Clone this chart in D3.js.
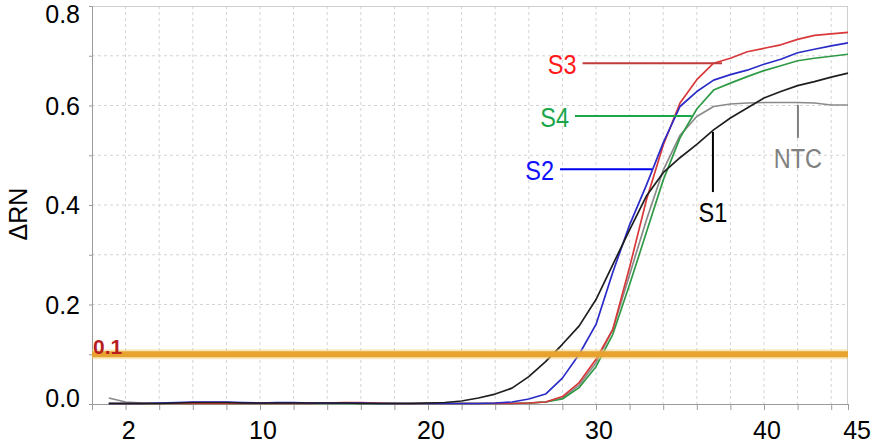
<!DOCTYPE html>
<html><head><meta charset="utf-8">
<script src="https://cdn.jsdelivr.net/npm/d3@7"></script>
<style>
html,body{margin:0;padding:0;background:#fff;}
svg{display:block;}
text{font-family:"Liberation Sans",Arial,sans-serif;}
</style></head>
<body>
<svg id="c" width="872" height="444"></svg>
<script>
// ---- data ----
const cycles = d3.range(1, 46);
const xTickLabels = [2, 10, 20, 30, 40, 45];
const yTickLabels = [0.0, 0.2, 0.4, 0.6, 0.8];
const threshold = 0.1;
const seriesNames = ["NTC", "S4", "S3", "S2", "S1"];
const ntc = [0.012,0.004,0.002,0.001,0.001,0.001,0.001,0.001,0.001,0.001, 0.001,0.001,0.001,0.001,0.001,0.001,0.001,0.001,0.001,0.001, 0.001,0.001,0.001,0.001,0.001, 0.002,0.004,0.012,0.038,0.083, 0.15,0.26,0.37,0.47,0.54, 0.578,0.598,0.603,0.605,0.606, 0.606,0.606,0.605,0.601,0.601];
const s1 = [0.001,0.001,0.001,0.001,0.002,0.003,0.003,0.003,0.002,0.002, 0.002,0.002,0.002,0.002,0.002,0.001,0.001,0.001,0.001,0.002, 0.003,0.006,0.012,0.02,0.032, 0.055,0.085,0.12,0.157,0.21, 0.28,0.35,0.418,0.465,0.495, 0.522,0.551,0.575,0.595,0.615, 0.628,0.64,0.648,0.657,0.665];
const s2 = [0.001,0.001,0.001,0.002,0.003,0.004,0.004,0.004,0.003,0.002, 0.003,0.003,0.002,0.002,0.002,0.002,0.001,0.001,0.001,0.001, 0.001,0.001,0.001,0.002,0.004, 0.01,0.02,0.052,0.1,0.16, 0.265,0.36,0.44,0.525,0.598, 0.628,0.651,0.662,0.671,0.683, 0.693,0.706,0.713,0.72,0.726];
const s3 = [0.001,0.001,0.001,0.001,0.001,0.001,0.001,0.001,0.001,0.001, 0.001,0.001,0.001,0.002,0.003,0.003,0.002,0.001,0.001,0.001, 0.001,0.001,0.001,0.001,0.001, 0.002,0.004,0.015,0.043,0.09, 0.15,0.275,0.41,0.52,0.605, 0.652,0.685,0.695,0.708,0.715, 0.722,0.733,0.741,0.744,0.747];
const s4 = [0.001,0.001,0.001,0.001,0.001,0.001,0.001,0.001,0.001,0.001, 0.001,0.001,0.001,0.001,0.001,0.001,0.001,0.001,0.001,0.001, 0.001,0.001,0.001,0.001,0.001, 0.002,0.004,0.01,0.033,0.075, 0.14,0.24,0.345,0.45,0.535, 0.593,0.631,0.645,0.658,0.67, 0.68,0.69,0.695,0.699,0.703];
const seriesValues = {NTC: ntc, S1: s1, S2: s2, S3: s3, S4: s4};

// ---- styles / layout ----
const lineColors = {NTC:"#8a8a8a", S1:"#1e1e1e", S2:"#2b2bc8", S3:"#d8383a", S4:"#2f9a45"};
const labelColors = {NTC:"#808080", S1:"#000000", S2:"#1010ff", S3:"#ff1a1a", S4:"#1aa64a"};
const leaderColors = {NTC:"#808080", S1:"#000000", S2:"#0000ee", S3:"#c23b3b", S4:"#1aa64a"};
const annotations = [
  {name:"S3", type:"h", x1:29.2, x2:37.5, y:0.685},
  {name:"S4", type:"h", x1:28.75, x2:35.7, y:0.579},
  {name:"S2", type:"h", x1:27.86, x2:33.33, y:0.472},
  {name:"S1", type:"v", x:36.96, y1:0.547, y2:0.426},
  {name:"NTC", type:"v", x:42.02, y1:0.601, y2:0.535}
];

const svg = d3.select("#c");
const L = 92, R = 848, T = 6, B = 404;
const x = d3.scaleLinear().domain([0, 45]).range([L, R]);
const y = d3.scaleLinear().domain([0, 0.8]).range([B, T]);

// grid
const g = svg.append("g");
g.selectAll("line.vg").data(d3.range(2, 45, 2)).join("line")
  .attr("x1", d=>x(d)).attr("x2", d=>x(d)).attr("y1", T).attr("y2", B)
  .attr("stroke", "#d4d4d4").attr("stroke-width", 1).attr("stroke-dasharray", "3,3");
g.selectAll("line.hg").data(d3.range(1, 8).map(d=>d/10)).join("line")
  .attr("x1", L).attr("x2", R).attr("y1", d=>y(d)).attr("y2", d=>y(d))
  .attr("stroke", "#d4d4d4").attr("stroke-width", 1).attr("stroke-dasharray", "3,3");

// frame
svg.append("line").attr("x1", L).attr("x2", R).attr("y1", T+0.5).attr("y2", T+0.5).attr("stroke", "#cfcfcf");
svg.append("line").attr("x1", R-0.5).attr("x2", R-0.5).attr("y1", T).attr("y2", B).attr("stroke", "#cfcfcf");

// axes
const xAxis = d3.axisBottom(x).tickValues(d3.range(0, 46, 2).concat([45])).tickSize(6).tickFormat("");
const xa = svg.append("g").attr("transform", `translate(0,${B})`).call(xAxis);
xa.select(".domain").attr("stroke", "#9a9a9a");
xa.selectAll(".tick line").attr("stroke", "#9a9a9a");
svg.append("g").selectAll("text").data(xTickLabels).join("text")
  .attr("x", d => d === 45 ? 871 : x(d) + 3)
  .attr("y", 439)
  .attr("text-anchor", d => d === 45 ? "end" : "middle")
  .attr("font-size", 25).attr("fill", "#000")
  .text(d => d);

const yAxis = d3.axisLeft(y).tickValues(d3.range(0, 9).map(d=>d/10)).tickSize(3).tickFormat("");
const ya = svg.append("g").attr("transform", `translate(${L},0)`).call(yAxis);
ya.select(".domain").attr("stroke", "#9a9a9a");
ya.selectAll(".tick line").attr("stroke", "#9a9a9a");
svg.append("g").selectAll("text").data(yTickLabels).join("text")
  .attr("x", 80)
  .attr("y", d => y(d) + 9 + (d === 0.8 ? 8 : 0) + (d === 0 ? -6 : 0))
  .attr("text-anchor", "end")
  .attr("font-size", 25).attr("fill", "#000")
  .text(d => d3.format(".1f")(d));

// y title
svg.append("text").attr("transform", "translate(27,214) rotate(-90)")
  .attr("text-anchor", "middle").attr("font-size", 25).text("ΔRN");

// curves
const line = d3.line().x((d,i)=>x(cycles[i])).y(d=>y(d));
const cg = svg.append("g");
seriesNames.forEach(n => {
  cg.append("path").datum(seriesValues[n]).attr("d", line)
    .attr("fill", "none").attr("stroke", lineColors[n]).attr("stroke-width", 1.7)
    .attr("stroke-linejoin", "round");
});

// threshold
svg.append("line").attr("x1", L).attr("x2", R).attr("y1", y(threshold)).attr("y2", y(threshold))
  .attr("stroke", "#f3d27a").attr("stroke-opacity", 0.5).attr("stroke-width", 10);
svg.append("line").attr("x1", L).attr("x2", R).attr("y1", y(threshold)).attr("y2", y(threshold))
  .attr("stroke", "#e8a22f").attr("stroke-width", 6);
svg.append("text").attr("x", L + 1).attr("y", y(threshold) - 0.5)
  .attr("font-family", "'Liberation Serif', 'Times New Roman', serif").attr("font-weight", "bold")
  .attr("font-size", 21).attr("fill", "#b81e1e").text(d3.format(".1f")(threshold));

// annotations
annotations.forEach(a => {
  const ag = svg.append("g");
  if (a.type === "h") {
    ag.append("line").attr("x1", x(a.x1)).attr("x2", x(a.x2)).attr("y1", y(a.y)).attr("y2", y(a.y))
      .attr("stroke", leaderColors[a.name]).attr("stroke-width", 2);
    ag.append("text").attr("transform", `translate(${x(a.x1) - 6},${y(a.y) + 11}) scale(0.84,1)`)
      .attr("text-anchor", "end").attr("font-size", 28).attr("fill", labelColors[a.name]).text(a.name);
  } else {
    ag.append("line").attr("x1", x(a.x)).attr("x2", x(a.x)).attr("y1", y(a.y1)).attr("y2", y(a.y2))
      .attr("stroke", leaderColors[a.name]).attr("stroke-width", 2);
    ag.append("text").attr("transform", `translate(${x(a.x)},${y(a.y2) + 30}) scale(0.84,1)`)
      .attr("text-anchor", "middle").attr("font-size", 28).attr("fill", labelColors[a.name]).text(a.name);
  }
});
</script>
</body></html>
